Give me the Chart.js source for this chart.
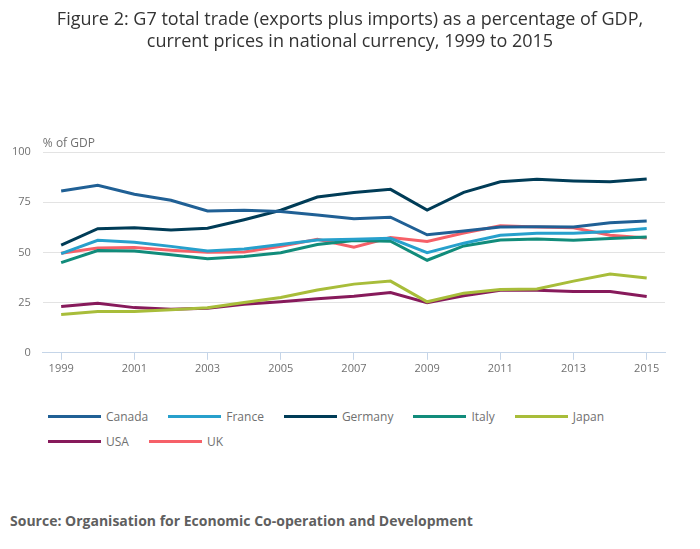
<!DOCTYPE html>
<html>
<head>
<meta charset="utf-8">
<script src="https://cdn.jsdelivr.net/npm/chart.js@4"></script>
<style>
  body { margin: 0; background: #fff; font-family: 'Open Sans', sans-serif; }
  #title { position: absolute; left: 0; top: 7px; width: 700px; text-align: center; font-size: 18px; line-height: 22px; color: #333333; }
  #wrap { position: relative; width: 700px; height: 381px; }
  #legend ul { list-style: none; margin: 0; padding: 0 0 0 48px; display: flex; flex-wrap: wrap; width: 600px; }
  #legend li { display: flex; align-items: center; height: 25px; margin-right: 20px; }
  #source { position: absolute; left: 10px; top: 511px; font-size: 14px; font-weight: bold; color: #5f5f5f; }
</style>
</head>
<body>
<div id="wrap"><canvas id="chart"></canvas></div>
<div id="title">Figure 2: G7 total trade (exports plus imports) as a percentage of GDP,<br>current prices in national currency, 1999 to 2015</div>
<div id="legend" style="position:absolute;left:0;top:404px;"><ul></ul></div>
<div id="source">Source: Organisation for Economic Co-operation and Development</div>
<script>
const years = ['1999', '2000', '2001', '2002', '2003', '2004', '2005', '2006', '2007',
  '2008', '2009', '2010', '2011', '2012', '2013', '2014', '2015'];

const canada = [80.6, 83.4, 79.0, 76.0, 70.6, 71.0, 70.4, 68.6, 66.7, 67.5, 58.8, 60.7, 62.7, 62.8, 62.7, 64.8, 65.6];
const france = [49.4, 56.0, 55.0, 53.0, 50.7, 51.7, 53.9, 56.2, 56.5, 57.0, 49.9, 54.6, 58.5, 59.5, 59.5, 60.4, 61.9];
const germany = [53.6, 61.8, 62.3, 61.2, 62.0, 66.3, 71.0, 77.6, 79.8, 81.4, 71.1, 79.9, 85.2, 86.4, 85.6, 85.2, 86.6];
const italy = [44.9, 50.9, 50.7, 48.8, 46.8, 47.9, 49.8, 53.9, 55.9, 55.6, 46.1, 53.2, 56.2, 56.7, 56.1, 56.9, 57.7];
const japan = [19.1, 20.6, 20.6, 21.4, 22.4, 25.0, 27.5, 31.3, 34.2, 35.7, 25.4, 29.7, 31.5, 31.8, 35.7, 39.2, 37.3];
const usa = [23.0, 24.7, 22.5, 21.7, 22.2, 24.2, 25.4, 26.9, 28.2, 30.0, 24.9, 28.4, 31.2, 31.2, 30.5, 30.5, 28.0];
const uk = [49.6, 52.2, 52.4, 51.1, 50.1, 50.2, 53.1, 56.5, 52.6, 57.4, 55.4, 59.7, 63.3, 62.7, 62.3, 58.5, 57.2];

const yTicks = [0, 25, 50, 75, 100];

const series = [
  { label: 'Canada', data: canada, color: '#206095' },
  { label: 'France', data: france, color: '#27a0cc' },
  { label: 'Germany', data: germany, color: '#003c57' },
  { label: 'Italy', data: italy, color: '#118c7b' },
  { label: 'Japan', data: japan, color: '#a8bd3a' },
  { label: 'USA', data: usa, color: '#871a5b' },
  { label: 'UK', data: uk, color: '#f66068' },
];

Chart.defaults.font.family = "'Open Sans', sans-serif";
Chart.defaults.color = '#707070';

// Draws the "% of GDP" unit label above the plot
const unitLabel = {
  id: 'unitLabel',
  afterDraw(c) {
    const { ctx, chartArea } = c;
    ctx.save();
    ctx.font = "12px 'Open Sans', sans-serif";
    ctx.fillStyle = '#707070';
    ctx.textBaseline = 'bottom';
    ctx.fillText('% of GDP', chartArea.left, chartArea.top - 2);
    ctx.restore();
  },
};

const htmlLegend = {
  id: 'htmlLegend',
  afterUpdate(c) {
    const ul = document.querySelector('#legend ul');
    while (ul.firstChild) ul.firstChild.remove();
    c.data.datasets.forEach((ds) => {
      const li = document.createElement('li');
      const box = document.createElement('span');
      box.style.display = 'block';
      box.style.width = '53px';
      box.style.height = '3px';
      box.style.background = ds.borderColor;
      box.style.marginRight = '5px';
      const label = document.createElement('span');
      label.style.color = '#707070';
      label.style.fontSize = '12px';
      label.textContent = ds.label;
      li.appendChild(box);
      li.appendChild(label);
      ul.appendChild(li);
    });
  },
};

new Chart(document.getElementById('chart'), {
  type: 'line',
  data: {
    labels: years,
    datasets: series.map((s) => ({
      label: s.label,
      data: s.data,
      borderColor: s.color,
      backgroundColor: s.color,
      borderWidth: 3,
      pointRadius: 0,
      tension: 0,
      fill: false,
    })),
  },
  options: {
    responsive: true,
    maintainAspectRatio: false,
    animation: false,
    layout: { padding: { top: 152, bottom: 4, left: 0, right: 35 } },
    scales: {
      y: {
        min: 0,
        max: 100,
        afterBuildTicks: (axis) => { axis.ticks = yTicks.map((v) => ({ value: v })); },
        grid: { color: '#e3e3e3', drawTicks: false },
        border: { display: false },
        ticks: { padding: 12, font: { size: 11 }, color: '#707070' },
      },
      x: {
        offset: true,
        grid: {
          offset: false,
          drawOnChartArea: false,
          tickLength: 7,
          tickColor: '#c5d5e8',
        },
        border: { color: '#c5d5e8', width: 1 },
        ticks: {
          autoSkip: false,
          maxRotation: 0,
          padding: 2,
          font: { size: 11 },
          color: '#707070',
          callback: (v, i) => (i % 2 === 0 ? years[i] : null),
        },
      },
    },
    plugins: {
      legend: { display: false },
      tooltip: { enabled: false },
    },
  },
  plugins: [unitLabel, htmlLegend],
});
</script>
</body>
</html>
